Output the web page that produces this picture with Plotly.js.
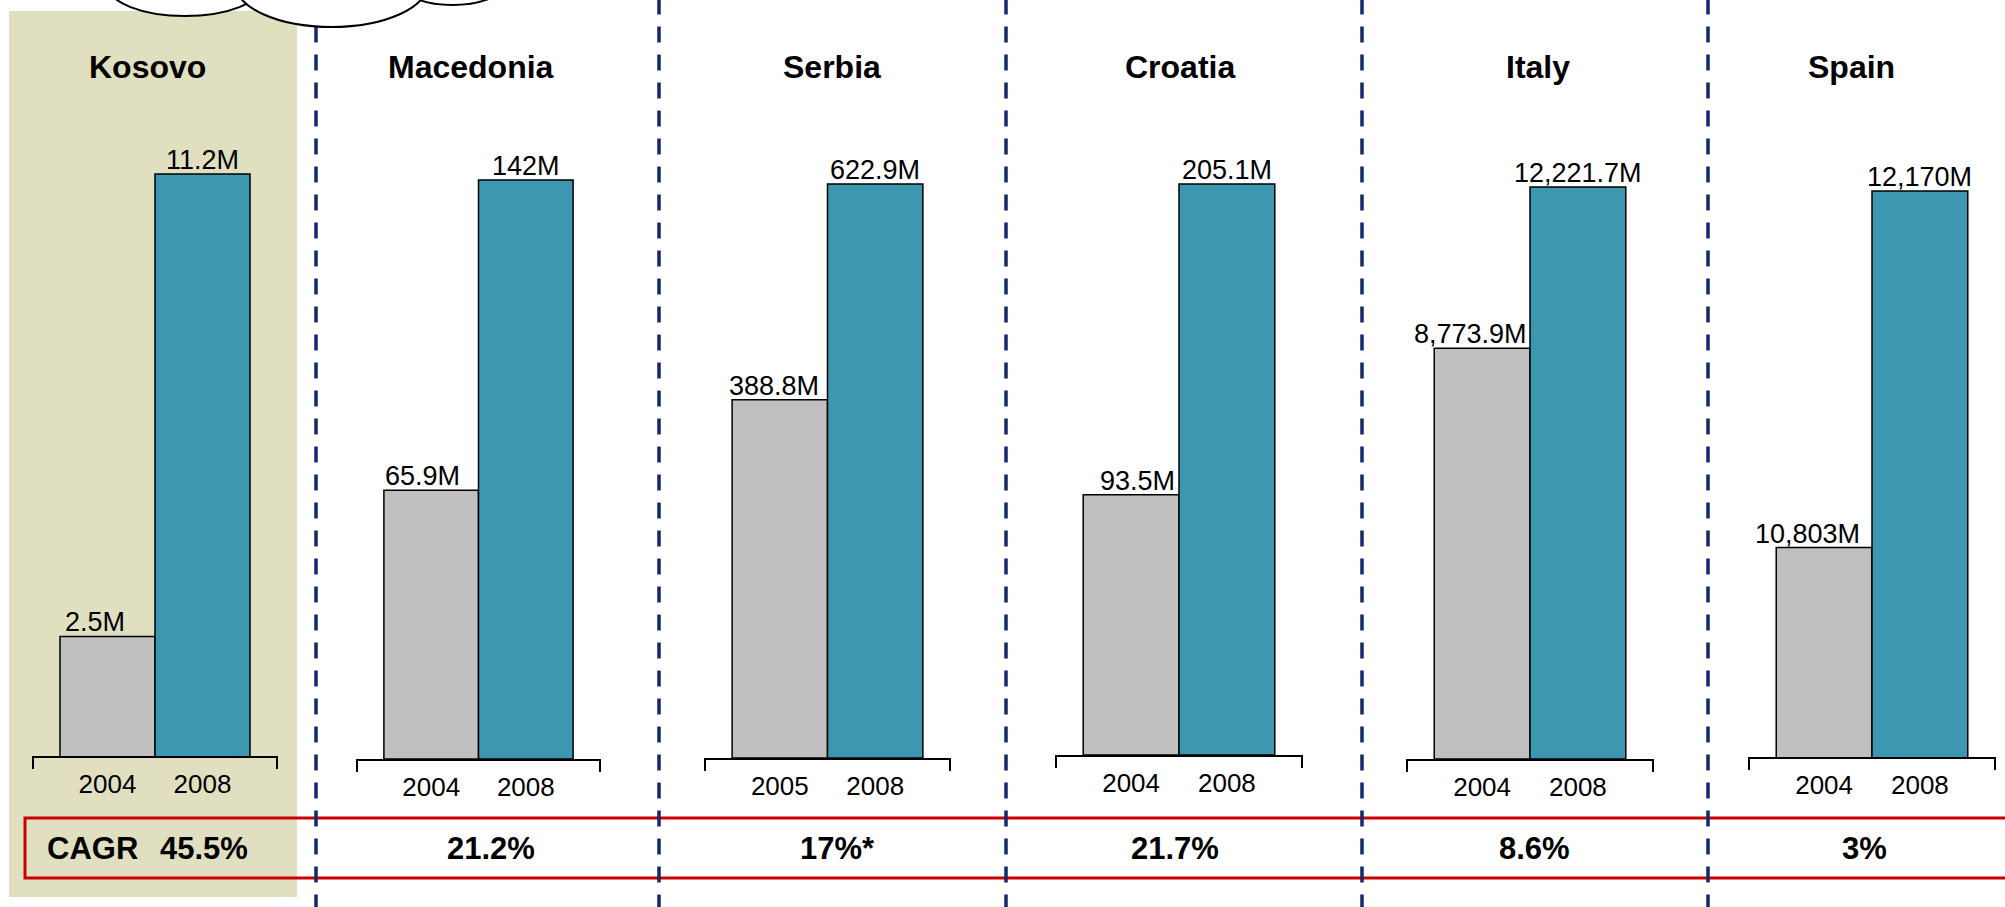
<!DOCTYPE html>
<html>
<head>
<meta charset="utf-8">
<script src="https://cdn.plot.ly/plotly-3.0.1.min.js"></script>
<style>
  html, body { margin: 0; padding: 0; background: #ffffff; }
  #chart { width: 2005px; height: 907px; }
</style>
</head>
<body>
<div id="chart"></div>
<script>
// ---------------- DATA ----------------
const countries   = ["Kosovo", "Macedonia", "Serbia", "Croatia", "Italy", "Spain"];
const startYears  = ["2004", "2004", "2005", "2004", "2004", "2004"];
const endYears    = ["2008", "2008", "2008", "2008", "2008", "2008"];
const startValues = [2.5, 65.9, 388.8, 93.5, 8773.9, 10803];
const endValues   = [11.2, 142, 622.9, 205.1, 12221.7, 12170];
const startLabels = ["2.5M", "65.9M", "388.8M", "93.5M", "8,773.9M", "10,803M"];
const endLabels   = ["11.2M", "142M", "622.9M", "205.1M", "12,221.7M", "12,170M"];
const cagrLabels  = ["45.5%", "21.2%", "17%*", "21.7%", "8.6%", "3%"];

// ---------------- LAYOUT CONFIG (pixels) ----------------
const W = 2005, H = 907;
const px = x => x / W;
const py = y => 1 - y / H;

const panelAxisPx  = [[33, 277], [357, 600], [705, 950], [1056, 1302], [1407, 1653], [1749, 1995]];
const panelBasePx  = [756, 759, 758, 755, 759, 757];
const panelFloor   = [0.25, 0, 0, 0, 0, 10000];   // value axis starts (Spain axis is truncated)
const tealTopPx    = [174, 180, 184, 184, 187, 191];
const domainTopPx  = 100;
const titleXPx     = [147, 471, 832, 1180, 1538, 1851];
const cagrXPx      = [204, 491, 837, 1175, 1534, 1864];
const startLabelShift = [-13, -9, -6, 6, -12, -17];
const dividerXPx   = [316, 659, 1006, 1362, 1708];

const GRAY = "#C0C0C0";
const TEAL = "#3E97B0";
const FONT = "Liberation Sans, Arial, Helvetica, sans-serif";

const traces = [];
const layout = {
  width: W, height: H,
  margin: {l: 0, r: 0, t: 0, b: 0},
  paper_bgcolor: "#ffffff",
  plot_bgcolor: "rgba(0,0,0,0)",
  showlegend: false,
  bargap: 0,
  font: {family: FONT, color: "#000000"},
  shapes: [],
  annotations: []
};

// Kosovo highlight background
layout.shapes.push({
  type: "rect", xref: "paper", yref: "paper", layer: "below",
  x0: px(9), x1: px(297), y0: py(897), y1: py(11),
  fillcolor: "#E0E0C0", line: {width: 0}
});

const m = 27 / 95; // side padding in bar units

countries.forEach((c, i) => {
  const n = i + 1;
  const xa = "xaxis" + (n === 1 ? "" : n);
  const ya = "yaxis" + (n === 1 ? "" : n);
  const xr = "x" + (n === 1 ? "" : n);
  const yr = "y" + (n === 1 ? "" : n);
  const B = panelBasePx[i];
  const v0 = panelFloor[i];
  const r1 = v0 + (endValues[i] - v0) * (B - domainTopPx) / (B - tealTopPx[i]);
  const cats = [startYears[i], endYears[i]];

  traces.push({
    type: "bar",
    x: cats,
    y: [startValues[i], endValues[i]],
    width: 1,
    marker: {color: [GRAY, TEAL], line: {color: "#000000", width: 1.5}},
    hoverinfo: "skip",
    xaxis: xr, yaxis: yr
  });

  layout[xa] = {
    domain: [px(panelAxisPx[i][0]), px(panelAxisPx[i][1])],
    anchor: yr,
    type: "category",
    categoryarray: cats, categoryorder: "array",
    range: [-0.5 - m, 1.5 + m],
    showline: true, linecolor: "#000000", linewidth: 2,
    ticks: "", ticklabelstandoff: 4,
    tickfont: {family: FONT, size: 26, color: "#000000"},
    showgrid: false, zeroline: false, fixedrange: true
  };
  layout[ya] = {
    domain: [py(B), py(domainTopPx)],
    anchor: xr,
    range: [v0, r1],
    visible: false,
    showgrid: false, zeroline: false, fixedrange: true
  };

  // value labels (category positions by index)
  layout.annotations.push({
    xref: xr, yref: yr, x: cats.indexOf(startYears[i]), y: startValues[i],
    xanchor: "center", yanchor: "bottom", yshift: -3, xshift: startLabelShift[i],
    showarrow: false, text: startLabels[i],
    font: {family: FONT, size: 27, color: "#000000"}
  });
  layout.annotations.push({
    xref: xr, yref: yr, x: cats.lastIndexOf(endYears[i]), y: endValues[i],
    xanchor: "center", yanchor: "bottom", yshift: -3,
    showarrow: false, text: endLabels[i],
    font: {family: FONT, size: 27, color: "#000000"}
  });

  // bracket end ticks
  [panelAxisPx[i][0], panelAxisPx[i][1]].forEach(xp => {
    layout.shapes.push({
      type: "line", xref: "paper", yref: "paper",
      x0: px(xp), x1: px(xp), y0: py(B), y1: py(B + 13),
      line: {color: "#000000", width: 2}
    });
  });

  // country title
  layout.annotations.push({
    xref: "paper", yref: "paper", x: px(titleXPx[i]), y: py(67),
    xanchor: "center", yanchor: "middle", showarrow: false,
    text: c, font: {family: FONT, size: 32, weight: 700, color: "#000000"}
  });

  // CAGR value
  layout.annotations.push({
    xref: "paper", yref: "paper", x: px(cagrXPx[i]), y: py(848),
    xanchor: "center", yanchor: "middle", showarrow: false,
    text: cagrLabels[i], font: {family: FONT, size: 31, weight: 700, color: "#000000"}
  });
});

// "CAGR" row label
layout.annotations.push({
  xref: "paper", yref: "paper", x: px(92), y: py(848),
  xanchor: "center", yanchor: "middle", showarrow: false,
  text: "CAGR", font: {family: FONT, size: 31, weight: 700, color: "#000000"}
});

// red CAGR band (open to the right)
layout.shapes.push({
  type: "rect", xref: "paper", yref: "paper",
  x0: px(25), x1: px(2015), y0: py(878), y1: py(818),
  fillcolor: "rgba(0,0,0,0)", line: {color: "#CC0000", width: 3}
});

// dashed dividers
dividerXPx.forEach(xp => {
  layout.shapes.push({
    type: "line", xref: "paper", yref: "paper",
    x0: px(xp), x1: px(xp), y0: py(-1.5), y1: py(910),
    line: {color: "#14296B", width: 3.5, dash: "16px,12px"}
  });
});

// speech cloud lobes (cut off at top)
[[108, 262, -45, 16], [405, 500, -30, 5], [235, 428, -60, 27]].forEach(e => {
  layout.shapes.push({
    type: "circle", xref: "paper", yref: "paper",
    x0: px(e[0]), x1: px(e[1]), y0: py(e[3]), y1: py(e[2]),
    fillcolor: "#ffffff", line: {color: "#000000", width: 2}
  });
});

Plotly.newPlot("chart", traces, layout, {staticPlot: true, displayModeBar: false});
</script>
</body>
</html>
